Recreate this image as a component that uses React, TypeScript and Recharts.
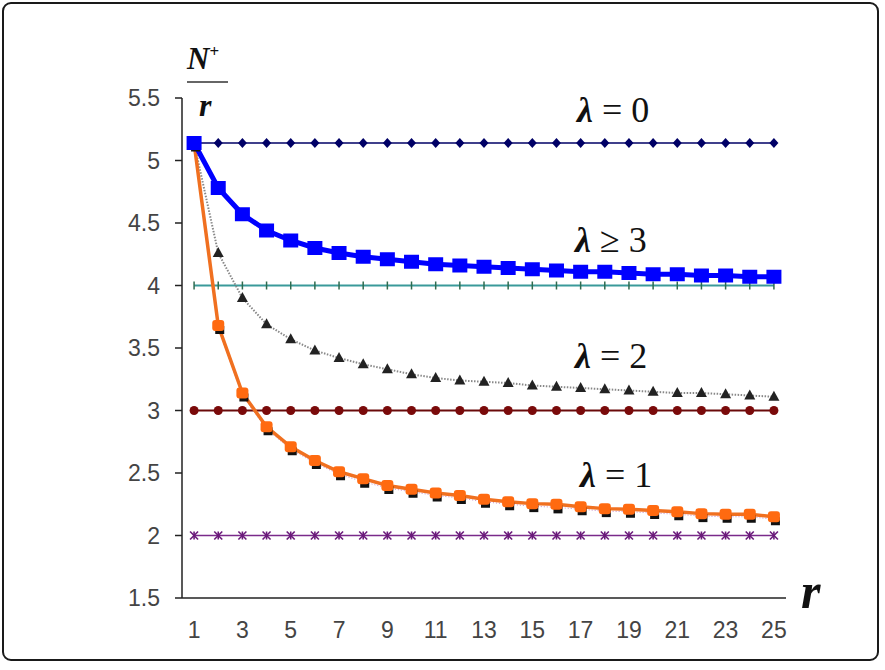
import { LineChart, Line, XAxis, YAxis } from "recharts";

const rValues = [1, 2, 3, 4, 5, 6, 7, 8, 9, 10, 11, 12, 13, 14, 15, 16, 17, 18, 19, 20, 21, 22, 23, 24, 25];

// horizontal reference series
const lambdaZero = [5.14, 5.14, 5.14, 5.14, 5.14, 5.14, 5.14, 5.14, 5.14, 5.14, 5.14, 5.14, 5.14, 5.14, 5.14, 5.14, 5.14, 5.14, 5.14, 5.14, 5.14, 5.14, 5.14, 5.14, 5.14];
const levelFour = [4, 4, 4, 4, 4, 4, 4, 4, 4, 4, 4, 4, 4, 4, 4, 4, 4, 4, 4, 4, 4, 4, 4, 4, 4];
const levelThree = [3, 3, 3, 3, 3, 3, 3, 3, 3, 3, 3, 3, 3, 3, 3, 3, 3, 3, 3, 3, 3, 3, 3, 3, 3];
const levelTwo = [2, 2, 2, 2, 2, 2, 2, 2, 2, 2, 2, 2, 2, 2, 2, 2, 2, 2, 2, 2, 2, 2, 2, 2, 2];

// decaying curves
const lambdaThree = [5.14, 4.78, 4.57, 4.44, 4.36, 4.3, 4.26, 4.23, 4.21, 4.19, 4.17, 4.16, 4.15, 4.14, 4.13, 4.12, 4.11, 4.11, 4.1, 4.09, 4.09, 4.08, 4.08, 4.07, 4.07];
const lambdaTwo = [5.14, 4.26, 3.9, 3.69, 3.57, 3.48, 3.42, 3.37, 3.33, 3.29, 3.26, 3.24, 3.23, 3.22, 3.2, 3.19, 3.18, 3.17, 3.16, 3.15, 3.14, 3.14, 3.13, 3.12, 3.11];
const lambdaOne = [5.14, 3.68, 3.14, 2.87, 2.71, 2.6, 2.51, 2.455, 2.4, 2.37, 2.34, 2.32, 2.29, 2.27, 2.255, 2.25, 2.23, 2.215, 2.21, 2.2, 2.19, 2.175, 2.17, 2.17, 2.15];
const lambdaOneExact = [5.12, 3.66, 3.12, 2.85, 2.69, 2.58, 2.49, 2.43, 2.38, 2.35, 2.32, 2.3, 2.27, 2.25, 2.235, 2.225, 2.21, 2.195, 2.19, 2.18, 2.17, 2.155, 2.15, 2.15, 2.13];

const xLabelTicks = [1, 3, 5, 7, 9, 11, 13, 15, 17, 19, 21, 23, 25];
const xMarkTicks = [0.5, 1.5, 2.5, 3.5, 4.5, 5.5, 6.5, 7.5, 8.5, 9.5, 10.5, 11.5, 12.5, 13.5, 14.5, 15.5, 16.5, 17.5, 18.5, 19.5, 20.5, 21.5, 22.5, 23.5, 24.5, 25.5];
const yTicks = [1.5, 2, 2.5, 3, 3.5, 4, 4.5, 5, 5.5];

const data = rValues.map((r, i) => ({
  r,
  l0: lambdaZero[i],
  four: levelFour[i],
  three: levelThree[i],
  two: levelTwo[i],
  l3: lambdaThree[i],
  l2: lambdaTwo[i],
  l1: lambdaOne[i],
  l1b: lambdaOneExact[i],
}));

const serif = '"Liberation Serif", "Times New Roman", serif';
const sans = '"Liberation Sans", Arial, sans-serif';

const diamond = (p: any) => (
  <polygon key={p.index} points={`${p.cx},${p.cy - 5} ${p.cx + 4.5},${p.cy} ${p.cx},${p.cy + 5} ${p.cx - 4.5},${p.cy}`} fill="#000066" />
);
const bigSquare = (p: any) => <rect key={p.index} x={p.cx - 7.5} y={p.cy - 7} width={15} height={14} fill="#0000ff" />;
const plusMark = (p: any) => <line key={p.index} x1={p.cx} y1={p.cy - 4} x2={p.cx} y2={p.cy + 4} stroke="#2f6b4f" strokeWidth={1.5} />;
const triangle = (p: any) => (
  <polygon key={p.index} points={`${p.cx},${p.cy - 6} ${p.cx + 5.5},${p.cy + 4} ${p.cx - 5.5},${p.cy + 4}`} fill="#222" />
);
const circle = (p: any) => <circle key={p.index} cx={p.cx} cy={p.cy} r={4.5} fill="#7a0a0a" />;
const blackSquare = (p: any) => <rect key={p.index} x={p.cx - 3} y={p.cy - 2} width={9} height={8} fill="#111" />;
const orangeSquare = (p: any) => <rect key={p.index} x={p.cx - 6} y={p.cy - 5.5} width={12} height={11} rx={3} fill="#ff6a10" />;
const asterisk = (p: any) => (
  <g key={p.index} stroke="#6a1a7a" strokeWidth={1.6}>
    <line x1={p.cx - 4} y1={p.cy - 4} x2={p.cx + 4} y2={p.cy + 4} />
    <line x1={p.cx - 4} y1={p.cy + 4} x2={p.cx + 4} y2={p.cy - 4} />
    <line x1={p.cx} y1={p.cy - 4} x2={p.cx} y2={p.cy + 4} />
  </g>
);

const tickStyle = { fontFamily: sans, fontSize: 23, fill: "#444" };

export default function App() {
  return (
    <div style={{ position: "absolute", left: 0, top: 0, width: 885, height: 670, background: "#fff" }}>
      <div
        style={{
          position: "absolute",
          left: 2,
          top: 2,
          width: 877,
          height: 659,
          border: "2px solid #1a1a1a",
          borderRadius: 9,
          boxSizing: "border-box",
        }}
      />
      <LineChart width={885} height={670} data={data} margin={{ top: 98, right: 99, bottom: 31, left: 0 }}>
        <XAxis
          dataKey="r"
          type="number"
          domain={[0.5, 25.5]}
          ticks={xMarkTicks}
          tick={false}
          tickSize={7}
          height={1}
          stroke="#222"
          strokeWidth={1.5}
        />
        <XAxis
          xAxisId="labels"
          dataKey="r"
          type="number"
          domain={[0.5, 25.5]}
          ticks={xLabelTicks}
          axisLine={false}
          tickLine={false}
          tickSize={6}
          tickMargin={17}
          height={40}
          tick={tickStyle}
          interval={0}
        />
        <YAxis
          domain={[1.5, 5.5]}
          ticks={yTicks}
          width={182}
          tickSize={7}
          tickMargin={15}
          stroke="#222"
          strokeWidth={1.5}
          tick={tickStyle}
          interval={0}
        />
        <Line dataKey="two" stroke="#7a2a8a" strokeWidth={1.5} dot={asterisk} isAnimationActive={false} />
        <Line dataKey="three" stroke="#6a0a0a" strokeWidth={2} dot={circle} isAnimationActive={false} />
        <Line dataKey="four" stroke="#3a9a9a" strokeWidth={2} dot={plusMark} isAnimationActive={false} />
        <Line dataKey="l0" stroke="#000066" strokeWidth={1.5} dot={diamond} isAnimationActive={false} />
        <Line dataKey="l2" stroke="#888" strokeWidth={2} strokeDasharray="1.5 1.5" dot={triangle} isAnimationActive={false} />
        <Line dataKey="l1b" stroke="#c58ac5" strokeWidth={1} strokeDasharray="1 2" dot={blackSquare} isAnimationActive={false} />
        <Line dataKey="l1" stroke="#f07020" strokeWidth={3.5} dot={orangeSquare} isAnimationActive={false} />
        <Line dataKey="l3" stroke="#0000ff" strokeWidth={5} dot={bigSquare} isAnimationActive={false} />
      </LineChart>
      <svg width={885} height={670} style={{ position: "absolute", left: 0, top: 0, pointerEvents: "none" }}>
        <text x={187} y={69} fontFamily={serif} fontSize={31} fontWeight="bold" fontStyle="italic" fill="#111">
          N
          <tspan fontSize={17} dy={-12} fontStyle="normal">+</tspan>
        </text>
        <line x1={187} y1={82} x2={228} y2={82} stroke="#333" strokeWidth={1.5} />
        <text x={199} y={116} fontFamily={serif} fontSize={32} fontWeight="bold" fontStyle="italic" fill="#111">r</text>
        <text x={801} y={608} fontFamily={serif} fontSize={50} fontWeight="bold" fontStyle="italic" fill="#111">r</text>
        <text x={577} y={122} fontFamily={serif} fontSize={36} fill="#111">
          <tspan fontWeight="bold" fontStyle="italic">λ</tspan> = 0
        </text>
        <text x={575} y={252} fontFamily={serif} fontSize={36} fill="#111">
          <tspan fontWeight="bold" fontStyle="italic">λ</tspan> ≥ 3
        </text>
        <text x={575} y={368} fontFamily={serif} fontSize={36} fill="#111">
          <tspan fontWeight="bold" fontStyle="italic">λ</tspan> = 2
        </text>
        <text x={580} y={487} fontFamily={serif} fontSize={36} fill="#111">
          <tspan fontWeight="bold" fontStyle="italic">λ</tspan> = 1
        </text>
      </svg>
    </div>
  );
}
